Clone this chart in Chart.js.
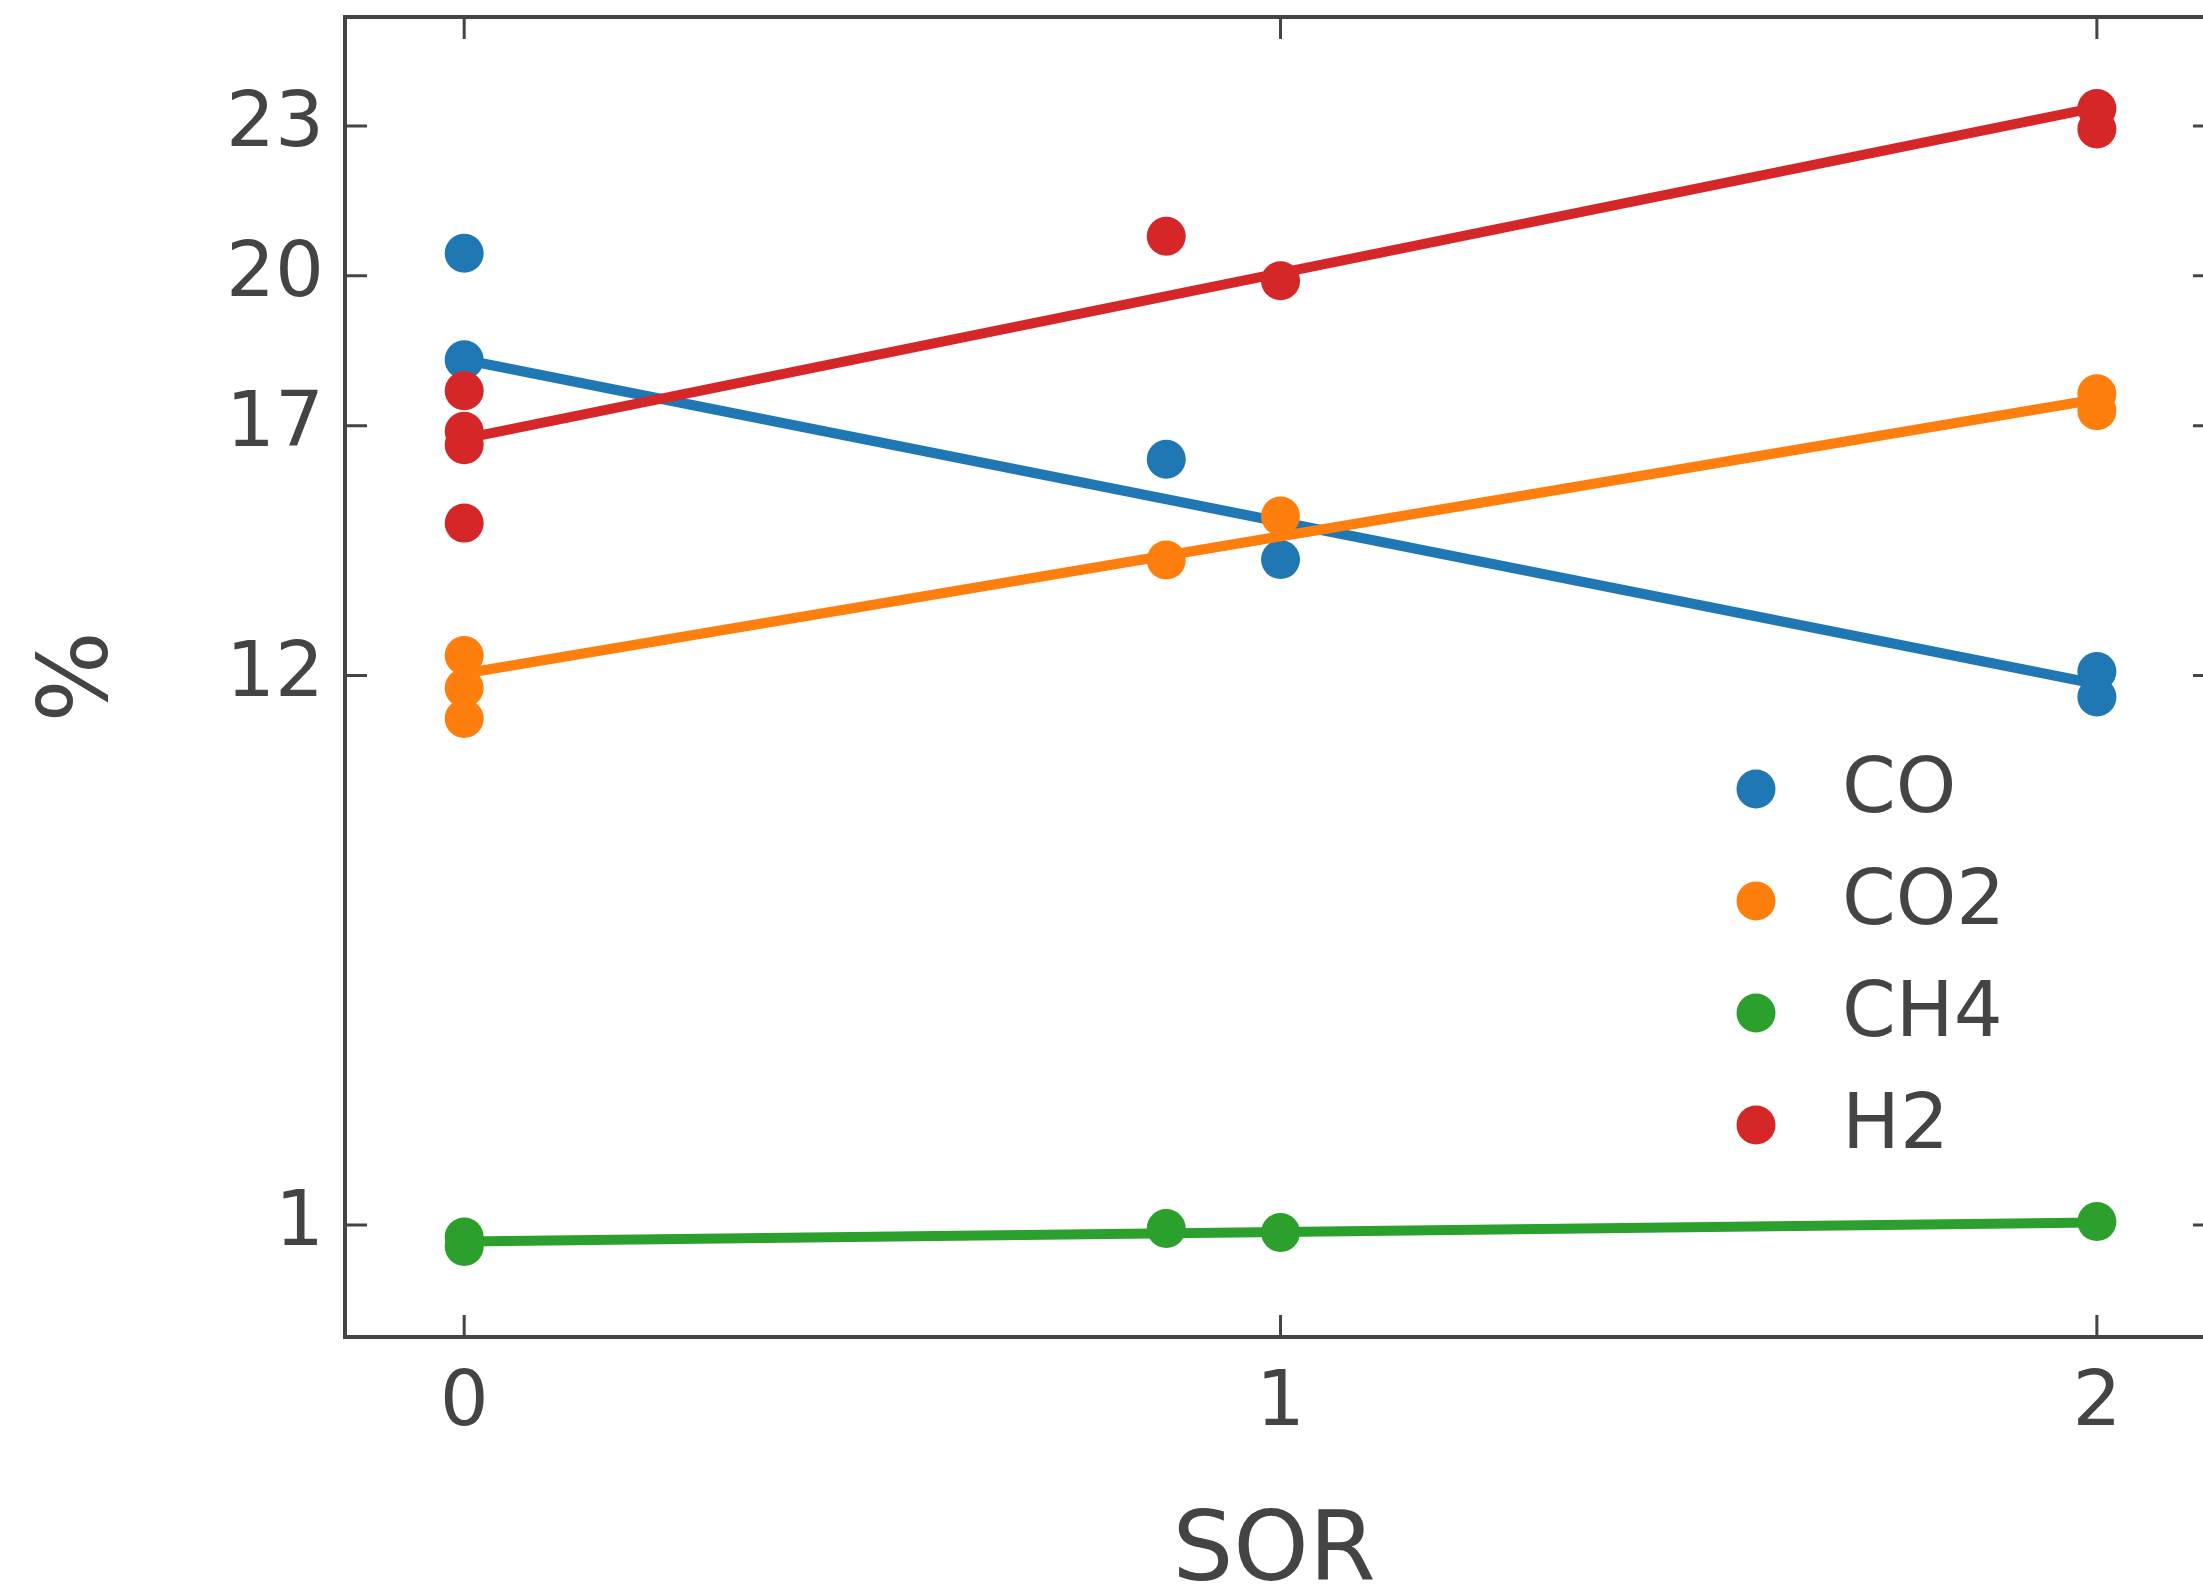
<!DOCTYPE html>
<html>
<head>
<meta charset="utf-8">
<script src="https://cdn.jsdelivr.net/npm/chart.js@4.4.0/dist/chart.umd.min.js"></script>
<style>
  html, body { margin: 0; padding: 0; background: #fff; overflow: hidden; }
</style>
</head>
<body>
<canvas id="graficoSOR" width="2203" height="1585"></canvas>
<script>
// measured composition (%) against SOR, one pair of arrays per gas
var sorCO  = [0, 0, 0.86, 1, 2, 2];
var valCO  = [20.45, 18.32, 16.33, 14.32, 12.08, 11.57];
var sorCO2 = [0, 0, 0, 0.86, 1, 2, 2];
var valCO2 = [12.40, 11.75, 11.14, 14.31, 15.19, 17.64, 17.30];
var sorCH4 = [0, 0, 0.86, 1, 2];
var valCH4 = [0.76, 0.57, 0.93, 0.85, 1.07];
var sorH2  = [0, 0, 0, 0, 0.86, 1, 2, 2];
var valH2  = [17.70, 16.89, 16.62, 15.05, 20.79, 19.90, 23.35, 22.94];

// linear fit end points (SOR 0 and 2)
var fitSOR = [0, 2];
var fitCO  = [18.32, 11.83];
var fitCO2 = [12.04, 17.53];
var fitCH4 = [0.67, 1.05];
var fitH2  = [16.74, 23.37];

var gases  = ['CO', 'CO2', 'CH4', 'H2'];
var colors = ['#1f77b4', '#ff7f0e', '#2ca02c', '#d62728'];
var xTicks = [0, 1, 2];
var yTicks = [1, 12, 17, 20, 23];

var textColor = '#444444';
var fontFamily = "'DejaVu Sans', Verdana, sans-serif";

function pts(xs, ys) {
  return xs.map(function (x, i) { return { x: x, y: ys[i] }; });
}

var series = [
  [sorCO, valCO, fitCO],
  [sorCO2, valCO2, fitCO2],
  [sorCH4, valCH4, fitCH4],
  [sorH2, valH2, fitH2]
];

var datasets = [];
series.forEach(function (s, i) {
  datasets.push({
    type: 'scatter',
    label: gases[i],
    data: pts(s[0], s[1]),
    backgroundColor: colors[i],
    borderWidth: 0,
    pointRadius: 19.5,
    pointHoverRadius: 19.5,
    order: 20 - i * 2
  });
  datasets.push({
    type: 'line',
    label: gases[i] + ' fit',
    isFit: true,
    data: pts(fitSOR, s[2]),
    borderColor: colors[i],
    borderWidth: 10,
    pointRadius: 0,
    pointHoverRadius: 0,
    fill: false,
    tension: 0,
    order: 19 - i * 2
  });
});

// frame around the plot plus inward ticks on all four sides;
// the right side of the frame sits just past the canvas edge
var framePlugin = {
  id: 'frame',
  afterDatasetsDraw: function (chart) {
    var ctx = chart.ctx, a = chart.chartArea;
    var xs = chart.scales.x, ys = chart.scales.y;
    var len = 22;
    var right = a.right + 12;
    ctx.save();
    ctx.strokeStyle = textColor;
    ctx.lineWidth = 3;
    xTicks.forEach(function (v) {
      var px = xs.getPixelForValue(v);
      ctx.beginPath();
      ctx.moveTo(px, a.bottom); ctx.lineTo(px, a.bottom - len);
      ctx.moveTo(px, a.top); ctx.lineTo(px, a.top + len);
      ctx.stroke();
    });
    yTicks.forEach(function (v) {
      var py = ys.getPixelForValue(v);
      ctx.beginPath();
      ctx.moveTo(a.left, py); ctx.lineTo(a.left + len, py);
      ctx.moveTo(right, py); ctx.lineTo(right - len, py);
      ctx.stroke();
    });
    ctx.lineWidth = 4;
    ctx.strokeRect(a.left, a.top, right - a.left, a.bottom - a.top);
    ctx.restore();
  }
};

// legend with dot markers, placed inside the plot
var legendPlugin = {
  id: 'dotLegend',
  afterDraw: function (chart) {
    var ctx = chart.ctx;
    var items = chart.data.datasets.filter(function (d) { return !d.isFit; });
    ctx.save();
    ctx.font = '77px ' + fontFamily;
    ctx.textBaseline = 'middle';
    ctx.textAlign = 'left';
    items.forEach(function (d, i) {
      var y = 789 + i * 112;
      ctx.fillStyle = d.backgroundColor;
      ctx.beginPath();
      ctx.arc(1756, y, 19.5, 0, Math.PI * 2);
      ctx.fill();
      ctx.fillStyle = textColor;
      ctx.fillText(d.label, 1842, y + 3);
    });
    ctx.restore();
  }
};

// keep the plot box fixed: no extra room for overhanging tick labels
function noPad(scale) {
  scale.paddingTop = 0;
  scale.paddingBottom = 0;
  scale.paddingLeft = 0;
  scale.paddingRight = 0;
}

var ctx = document.getElementById('graficoSOR').getContext('2d');
var chartSOR = new Chart(ctx, {
  data: { datasets: datasets },
  options: {
    responsive: false,
    animation: false,
    layout: { autoPadding: false, padding: { top: 17, right: 0, left: 0, bottom: 0 } },
    plugins: {
      legend: { display: false },
      tooltip: { enabled: false }
    },
    scales: {
      x: {
        type: 'linear',
        min: -0.146,
        max: 2.13,
        afterBuildTicks: function (scale) {
          scale.ticks = xTicks.map(function (v) { return { value: v }; });
        },
        afterFit: function (scale) { scale.height = 248; noPad(scale); },
        grid: { display: false, drawTicks: false },
        border: { display: false },
        ticks: {
          color: textColor,
          padding: 22,
          maxRotation: 0,
          font: { family: fontFamily, size: 77 }
        },
        title: {
          display: true,
          text: 'SOR',
          color: textColor,
          padding: { top: 0, bottom: 0 },
          font: { family: fontFamily, size: 96, lineHeight: 0.625 }
        }
      },
      y: {
        type: 'linear',
        min: -1.24,
        max: 25.18,
        afterBuildTicks: function (scale) {
          scale.ticks = yTicks.map(function (v) { return { value: v }; });
        },
        afterFit: function (scale) { scale.width = 345; noPad(scale); },
        grid: { display: false, drawTicks: false },
        border: { display: false },
        ticks: {
          color: textColor,
          padding: 21,
          font: { family: fontFamily, size: 77 }
        },
        title: {
          display: true,
          text: '%',
          color: textColor,
          padding: { top: 34, bottom: 0 },
          font: { family: fontFamily, size: 96, lineHeight: 1 }
        }
      }
    }
  },
  plugins: [framePlugin, legendPlugin]
});
</script>
</body>
</html>
